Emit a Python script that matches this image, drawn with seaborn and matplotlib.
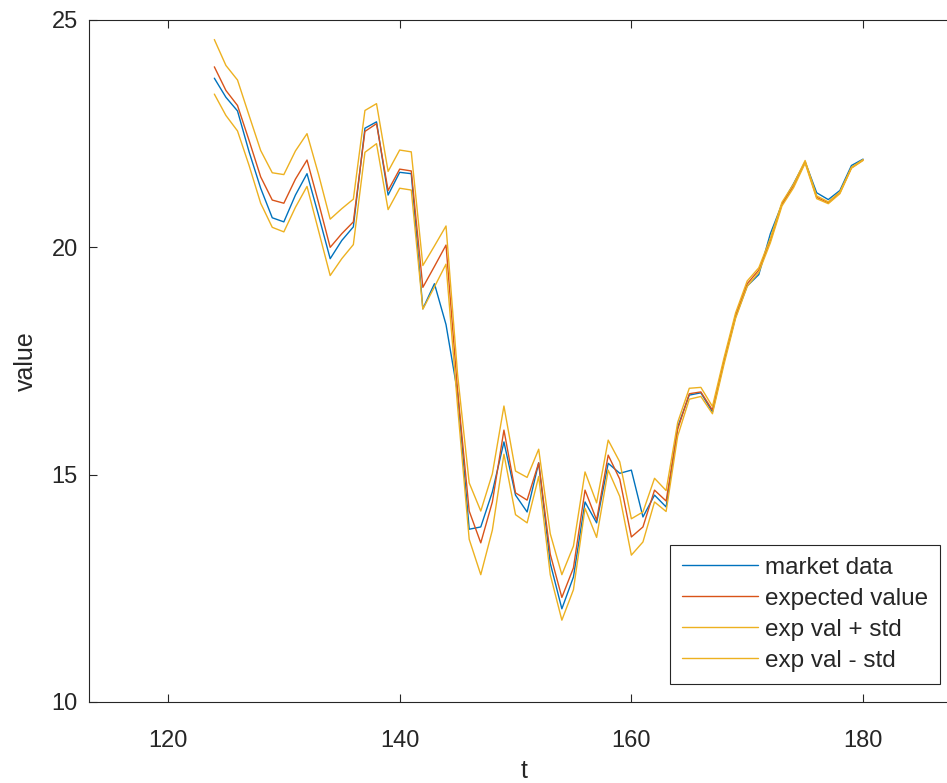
import numpy as np
import pandas as pd
import matplotlib
matplotlib.use("Agg")
import matplotlib.pyplot as plt
import seaborn as sns

# time steps
t = list(range(124, 181))

# observed market prices
market = [23.72, 23.30, 23.00, 22.10, 21.30, 20.65, 20.56, 21.15, 21.62, 20.70,
          19.75, 20.15, 20.45, 22.62, 22.76, 21.15, 21.65, 21.62, 18.65, 19.20,
          18.30, 16.80, 13.80, 13.85, 14.62, 15.72, 14.55, 14.18, 15.26, 13.05,
          12.05, 12.75, 14.40, 13.94, 15.25, 15.03, 15.10, 14.07, 14.55, 14.29,
          16.05, 16.75, 16.80, 16.38, 17.50, 18.47, 19.15, 19.40, 20.30, 20.95,
          21.40, 21.88, 21.20, 21.05, 21.25, 21.80, 21.94]

# model expected value
expected = [23.97, 23.45, 23.12, 22.35, 21.55, 21.04, 20.97, 21.50, 21.92, 20.98,
            20.00, 20.30, 20.56, 22.55, 22.72, 21.25, 21.72, 21.68, 19.12, 19.58,
            20.05, 16.85, 14.20, 13.50, 14.40, 15.98, 14.60, 14.44, 15.26, 13.25,
            12.30, 12.95, 14.66, 14.00, 15.43, 14.90, 13.63, 13.85, 14.66, 14.42,
            16.00, 16.78, 16.82, 16.42, 17.50, 18.50, 19.20, 19.50, 20.15, 20.95,
            21.35, 21.88, 21.10, 20.98, 21.20, 21.75, 21.92]

# model standard deviation
std = [0.60, 0.55, 0.56, 0.55, 0.58, 0.60, 0.63, 0.62, 0.58, 0.62,
       0.62, 0.55, 0.50, 0.46, 0.44, 0.42, 0.42, 0.42, 0.48, 0.45,
       0.42, 0.35, 0.62, 0.70, 0.62, 0.53, 0.48, 0.50, 0.30, 0.45,
       0.50, 0.48, 0.40, 0.38, 0.33, 0.38, 0.40, 0.33, 0.26, 0.23,
       0.15, 0.12, 0.10, 0.08, 0.07, 0.06, 0.06, 0.05, 0.05, 0.04,
       0.04, 0.03, 0.03, 0.02, 0.02, 0.01, 0.01]

x_ticks = [120, 140, 160, 180]
y_ticks = [10, 15, 20, 25]

df = pd.DataFrame({"t": t, "market": market, "expected": expected, "std": std})
df["upper"] = df["expected"] + df["std"]
df["lower"] = df["expected"] - df["std"]

sns.set_theme(style="white")
plt.rcParams["font.family"] = ["Liberation Sans", "DejaVu Sans"]

ink = "#262626"
fig = plt.figure(figsize=(9.47, 7.83), dpi=100)
ax = fig.add_axes([89 / 947, 81 / 783, (960 - 89) / 947, (702 - 20) / 783])

series = [
    ("market", "market data", "#0072BD"),
    ("expected", "expected value", "#D95319"),
    ("upper", "exp val + std", "#EDB120"),
    ("lower", "exp val - std", "#EDB120"),
]
for col, label, color in series:
    sns.lineplot(data=df, x="t", y=col, ax=ax, color=color, linewidth=1.0,
                 label=label)

ax.set_xlim(113.18, 188.37)
ax.set_ylim(10, 25)
ax.set_xticks(x_ticks)
ax.set_yticks(y_ticks)
ax.tick_params(direction="in", length=6, width=0.8, colors=ink,
               labelsize=17, top=True, right=True, bottom=True, left=True,
               labelcolor=ink)
ax.tick_params(axis="x", pad=20)
ax.tick_params(axis="y", pad=8)
for s in ax.spines.values():
    s.set_color(ink)
    s.set_linewidth(0.8)
ax.set_xlabel("t", fontsize=18, color=ink, labelpad=5)
ax.set_ylabel("value", fontsize=18, color=ink, labelpad=10)

leg = ax.legend(loc="lower right", bbox_to_anchor=(940 / 947, 99 / 783),
                bbox_transform=fig.transFigure, fontsize=17.5,
                handlelength=3.1, handletextpad=0.29, labelspacing=0.37,
                borderpad=0.5, borderaxespad=0, fancybox=False,
                framealpha=1, edgecolor=ink)
leg.get_frame().set_linewidth(0.8)
for txt in leg.get_texts():
    txt.set_color(ink)

fig.savefig("out.png", dpi=100)
